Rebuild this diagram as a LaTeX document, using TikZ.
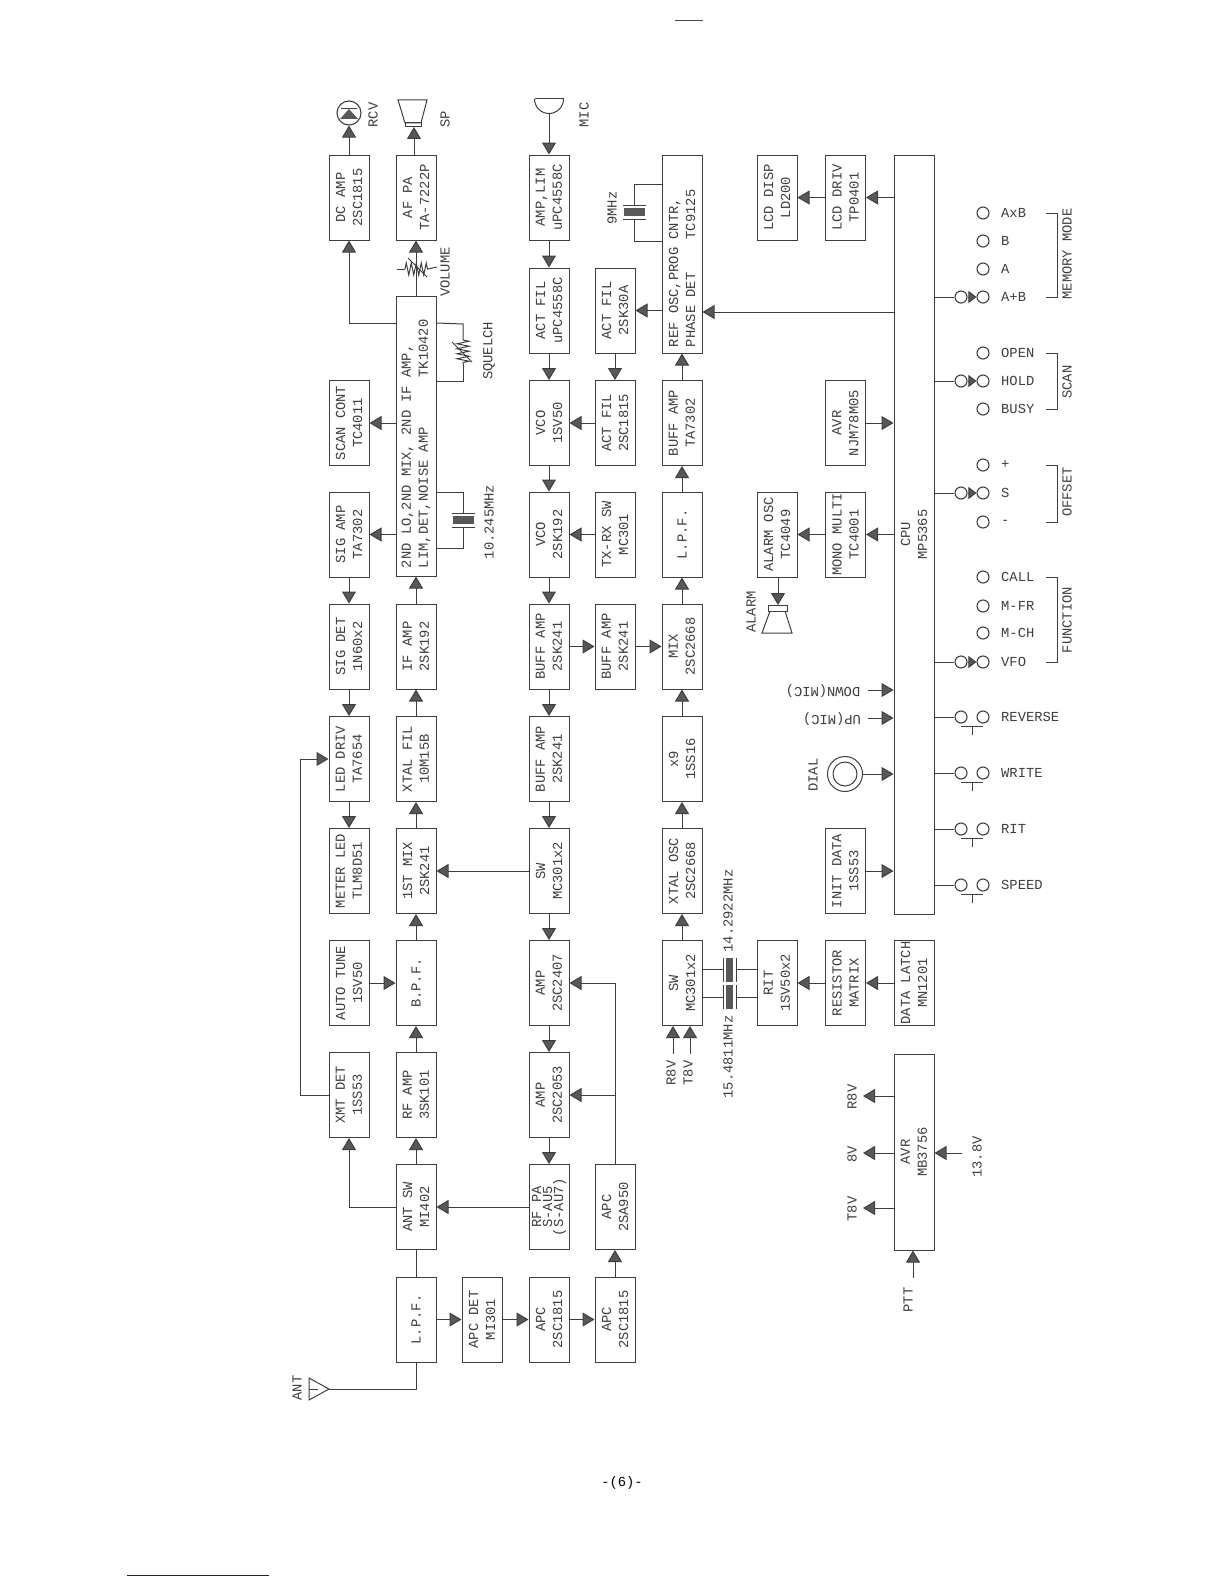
\documentclass[tikz,border=0pt]{standalone}
\usepackage{fontspec}
\newfontfamily\boxfam{Liberation Mono}
\newcommand{\boxfont}{\boxfam\fontsize{13.8}{17}\selectfont}
\definecolor{inkgray}{RGB}{62,62,62}
\definecolor{tipgray}{RGB}{88,88,88}
\definecolor{rulblue}{RGB}{20,20,170}
\usetikzlibrary{arrows.meta,calc,decorations.pathmorphing}
\tikzset{
  blockbox/.style={draw=inkgray,line width=1pt,rotate=90,minimum width=85pt,minimum height=40pt,inner sep=0pt,align=center,font=\boxfont,text=inkgray},
  wire/.style={draw=inkgray,line width=1pt},
  conn/.style={wire,-{Triangle[length=12pt,width=14pt,fill=tipgray]}},
  tinyconn/.style={wire,-{Triangle[length=8pt,width=12pt,fill=tipgray]}},
  sidelabel/.style={rotate=90,inner sep=0pt,align=center,font=\boxfont,text=inkgray},
  flatlabel/.style={anchor=west,inner sep=0pt,font=\boxfont,text=inkgray},
  swcircle/.style={circle,draw=inkgray,line width=1.1pt,minimum size=12pt,inner sep=0pt},
  resist/.style={wire,decorate,decoration={zigzag,segment length=5pt,amplitude=6pt}},
  xtalbody/.style={fill=tipgray,draw=none},
}
\begin{document}
\begin{tikzpicture}[x=1pt,y=-1pt]
  \useasboundingbox (0,0) rectangle (1224,1584);
  \foreach \nm/\cx/\cy/\txt in {
    dcamp/349/197.5/{DC AMP\\2SC1815},
    scancont/349/423/{SCAN CONT\\TC4011},
    sigamp/349/534.5/{SIG AMP\\TA7302},
    sigdet/349/646.5/{SIG DET\\1N60x2},
    leddriv/349/759/{LED DRIV\\TA7654},
    meterled/349/871/{METER LED\\TLM8D51},
    autotune/349/983/{AUTO TUNE\\1SV50},
    xmtdet/349/1095/{XMT DET\\1SS53},
    afpa/416/197.5/{AF PA\\TA-7222P},
    ifamp/416/646.5/{IF AMP\\2SK192},
    xtalfil/416/759/{XTAL FIL\\10M15B},
    firstmix/416/871/{1ST MIX\\2SK241},
    bpf/416/983/{B.P.F.},
    rfamp/416/1095/{RF AMP\\3SK101},
    antsw/416/1207/{ANT SW\\MI402},
    lpfant/416/1319.5/{L.P.F.},
    apcdet/482/1319.5/{APC DET\\MI301},
    amplim/549/197.5/{AMP,LIM\\uPC4558C},
    actfila/549/310.5/{ACT FIL\\uPC4558C},
    vcoa/549/423/{VCO\\1SV50},
    vcob/549/534.5/{VCO\\2SK192},
    buffa/549/646.5/{BUFF AMP\\2SK241},
    buffb/549/759/{BUFF AMP\\2SK241},
    swa/549/871/{SW\\MC301x2},
    ampa/549/983/{AMP\\2SC2407},
    ampb/549/1095/{AMP\\2SC2053},
    rfpa/549/1207/{RF PA\\[-6pt]S-AU5\\[-6pt](S-AU7)},
    apcb/549/1319.5/{APC\\2SC1815},
    actfilb/615/310.5/{ACT FIL\\2SK30A},
    actfilc/615/423/{ACT FIL\\2SC1815},
    txrxsw/615/534.5/{TX-RX SW\\MC301},
    buffc/615/646.5/{BUFF AMP\\2SK241},
    apcd/615/1207/{APC\\2SA950},
    apce/615/1319.5/{APC\\2SC1815},
    buffe/682/423/{BUFF AMP\\TA7302},
    lpfe/682/534.5/{L.P.F.},
    mix/682/646.5/{MIX\\2SC2668},
    xnine/682/759/{x9\\1SS16},
    xtalosc/682/871/{XTAL OSC\\2SC2668},
    swb/682/983/{SW\\MC301x2},
    lcddisp/777/197.5/{LCD DISP\\LD200},
    alarmosc/777/534.5/{ALARM OSC\\TC4049},
    rit/777/983/{RIT\\1SV50x2},
    lcddrv/845.5/197.5/{LCD DRIV\\TP0401},
    avrb/845.5/423/{AVR\\NJM78M05},
    monomulti/845.5/534.5/{MONO MULTI\\TC4001},
    initdata/845.5/871/{INIT DATA\\1SS53},
    resmatrix/845.5/983/{RESISTOR\\MATRIX},
    datalatch/914/983/{DATA LATCH\\MN1201}} {
    \node[blockbox] (\nm) at (\cx,\cy) {\txt};
  }
  \node[blockbox,minimum width=280pt,text width=264pt,align=flush left] (wideif) at (416,436) {2ND LO,2ND MIX, 2ND IF AMP,\\LIM,DET,NOISE AMP~~~~~~TK10420};
  \node[blockbox,minimum width=198pt,text width=186pt,align=flush left] (refosc) at (682,254) {REF OSC,PROG CNTR,\\PHASE DET~~~~TC9125};
  \node[blockbox,minimum width=759pt] (cpu) at (914,534.5) {CPU\\MP5365};
  \node[blockbox,minimum width=196pt] (avra) at (914,1152) {AVR\\MB3756};

  \foreach \a/\b in {
    sigamp/sigdet,sigdet/leddriv,leddriv/meterled,autotune/bpf,
    wideif/afpa,ifamp/wideif,xtalfil/ifamp,firstmix/xtalfil,bpf/firstmix,rfamp/bpf,antsw/rfamp,
    swa/firstmix,rfpa/antsw,lpfant/apcdet,apcdet/apcb,apcb/apce,apce/apcd,
    amplim/actfila,actfila/vcoa,vcoa/vcob,vcob/buffa,buffa/buffb,buffb/swa,swa/ampa,ampa/ampb,ampb/rfpa,
    buffa/buffc,buffc/mix,actfilb/actfilc,actfilc/vcoa,txrxsw/vcob,
    buffe/refosc,lpfe/buffe,mix/lpfe,xnine/mix,xtalosc/xnine,swb/xtalosc,
    lcddrv/lcddisp,monomulti/alarmosc,resmatrix/rit,datalatch/resmatrix} {
    \draw[conn] (\a) -- (\b);
  }
  \draw[wire] (lpfant) -- (antsw);
  \draw[conn] (wideif.north |- scancont) -- (scancont.south);
  \draw[conn] (wideif.north |- sigamp) -- (sigamp.south);
  \coordinate (dcout) at (396,323);
  \draw[conn] (dcout) -| (dcamp);
  \draw[conn] (antsw.north) -| (xmtdet);
  \coordinate (xmtbus) at (300,759);
  \draw[conn] (xmtdet.north) -| (xmtbus) -- (leddriv.north);
  \draw[conn] (apcd) |- (ampa.south);
  \draw[conn] (apcd |- ampb) -- (ampb.south);
  \draw[conn] (refosc.north |- actfilb) -- (actfilb.south);

  \draw[conn] (cpu.north |- lcddrv) -- (lcddrv.south);
  \coordinate (cpuref) at (894,312);
  \draw[conn] (cpuref) -- (cpuref -| refosc.south);
  \draw[conn] (avrb.south) -- (cpu.north |- avrb);
  \draw[conn] (cpu.north |- monomulti) -- (monomulti.south);
  \draw[conn] (initdata.south) -- (cpu.north |- initdata);
  \foreach \nm/\cy/\txt/\cx in {downin/690/DOWN(MIC)/823,upin/718/UP(MIC)/832} {
    \coordinate (\nm) at (868,\cy);
    \node[rotate=180,inner sep=0pt,font=\boxfont,text=inkgray] (lbl\nm) at (\cx,\cy+1) {\txt};
    \draw[conn] (\nm) -- (cpu.north |- \nm);
  }
  \node[circle,draw=inkgray,line width=1pt,minimum size=35pt,inner sep=0pt] (dial) at (845,774) {};
  \node[circle,draw=inkgray,line width=1pt,minimum size=24pt,inner sep=0pt] (dialin) at (845,774) {};
  \draw[conn] (dial) -- (cpu.north |- dial);
  \foreach \nm/\cy/\txt in {avrr/1096/R8V,avrm/1153/8V,avrt/1208/T8V} {
    \coordinate (\nm) at (863,\cy);
    \draw[conn] (cpu.north |- \nm) -- (\nm);
    \node[sidelabel] (lbl\nm) at (852,\cy+1) {\txt};
  }
  \coordinate (avrin) at (962,1153);
  \draw[conn] (avrin) -- (avrin -| avra.south);
  \coordinate (pttin) at (913,1278);
  \draw[conn] (pttin) -- (pttin |- avra.west);
  \foreach \nm/\cx in {rbv/673,tbv/690} {
    \coordinate (\nm) at (\cx,1054);
    \draw[conn] (\nm) -- (\nm |- swb.west);
  }
  \foreach \nm/\cx/\cy/\txt in {
    lblrcv/373/115/RCV,lblsp/445/119/SP,lblmic/584/115/MIC,lblvol/445/272/VOLUME,
    lblsq/489/351/SQUELCH,lblten/489/522/10.245MHz,lblnine/612/208/9MHz,
    lblant/297/1388/ANT,lblalarm/751/612/ALARM,lbldial/813/775/DIAL,
    lblfo/728/911/{14.2922MHz},lblfi/728/1057/{15.4811MHz},
    lblrb/671/1073/R8V,lbltb/688/1073/T8V,lbltv/977/1157/13.8V,lblptt/908/1300/PTT,
    lblmem/1067/254/{MEMORY MODE},lblscan/1067/382/SCAN,lblof/1067/492/OFFSET,lblfn/1067/620/FUNCTION} {
    \node[sidelabel] (\nm) at (\cx,\cy) {\txt};
  }

  \node[circle,draw=inkgray,line width=1.1pt,minimum size=24pt,inner sep=0pt] (rcv) at (349,113) {};
  \draw[conn] (dcamp) -- (rcv);
  \fill[tipgray] (340,119) -- (358,119) -- (349,109) -- cycle;
  \draw[wire] (341,108.5) -- (357,108.5);
  \draw[wire] (398,100) -- (427,100) -- (421,123) -- (405,123) -- cycle;
  \draw[wire] (405,123) rectangle (421,127);
  \coordinate (spk) at (414,127);
  \draw[conn] (spk |- afpa.east) -- (spk);
  \draw[wire] (534.5,99) -- (563.5,99);
  \draw[wire] (534.5,99) arc (180:0:14.5);
  \coordinate (mic) at (549,113.5);
  \draw[conn] (mic) -- (amplim);
  \coordinate (alarmspk) at (778,605);
  \draw[conn] (alarmosc.west -| alarmspk) -- (alarmspk);
  \draw[wire] (768,605) rectangle (787,611);
  \draw[wire] (770,611) -- (762,633) -- (792,633) -- (785,611);
  \draw[wire] (309,1378) -- (329,1389) -- (309,1400) -- cycle;
  \draw[wire] (309,1389) -- (318,1389);
  \coordinate (anttip) at (329,1389);
  \draw[wire] (lpfant) |- (anttip);

  \draw[wire] (397,269) -- (405,269);
  \draw[resist] (405,269) -- (428,269);
  \draw[wire] (428,269) -- (437,267);
  \draw[wire] (408,258) -- (427,277);
  \draw[wire] (wideif.south |- dcout) -- (463,324) -- (463,340);
  \draw[resist] (463,340) -- (463,364);
  \draw[wire] (463,364) -- (463,381) -- (436,381);
  \draw[wire] (452,342) -- (472,362);

  \draw[wire] (436,492) -- (463,492) -- (463,513);
  \draw[wire] (463,527) -- (463,548) -- (436,548);
  \draw[wire] (452,513) -- (475,513);
  \draw[wire] (452,527) -- (475,527);
  \fill[xtalbody] (453,516) rectangle (474,524);

  \draw[wire] (662,184) -- (634,184) -- (634,205);
  \draw[wire] (634,219) -- (634,241) -- (662,241);
  \draw[wire] (623,205) -- (646,205);
  \draw[wire] (623,219) -- (646,219);
  \fill[xtalbody] (624,208) rectangle (645,216);

  \foreach \cy/\ya/\yb in {969/958/982,997/985/1009} {
    \draw[wire] (702,\cy) -- (723,\cy);
    \draw[wire] (736,\cy) -- (757,\cy);
    \draw[wire] (723,\ya) -- (723,\yb);
    \draw[wire] (736,\ya) -- (736,\yb);
    \fill[xtalbody] (726,\ya) rectangle (733,\yb);
  }

  \foreach \nm/\cy/\txt in {
    axb/213/AxB,bsel/241/B,asel/269/A,apb/297/A+B,
    open/353/OPEN,hold/381/HOLD,busy/409/BUSY,
    plus/465/+,ssel/493/S,minus/522/-,
    call/577/CALL,mfr/606/M-FR,mch/633/M-CH,vfo/662/VFO,
    rev/717/REVERSE,wrt/773/WRITE,rits/829/RIT,spd/885/SPEED} {
    \node[swcircle] (c\nm) at (983,\cy) {};
    \node[flatlabel] (l\nm) at (1001,\cy) {\txt};
  }
  \foreach \nm/\cy in {apb/297,hold/381,ssel/493,vfo/662,rev/717,wrt/773,rits/829,spd/885} {
    \node[swcircle] (p\nm) at (961,\cy) {};
    \draw[wire] (cpu.south |- p\nm) -- (p\nm);
  }
  \foreach \nm in {apb,hold,ssel,vfo} {
    \draw[tinyconn] (p\nm) -- (c\nm);
  }
  \foreach \nm in {rev,wrt,rits,spd} {
    \draw[wire] ($(p\nm)+(0,9)$) -- ($(c\nm)+(0,9)$);
    \draw[wire] ($(p\nm)!0.5!(c\nm)+(0,9)$) -- ++(0,9);
  }
  \foreach \ya/\yb in {213/297,353/409,465/522,577/662} {
    \draw[wire] (1046,\ya) -- (1057,\ya) -- (1057,\yb) -- (1046,\yb);
  }

  \node[inner sep=0pt,font=\boxfont,text=black] (pageno) at (622,1483) {-(6)-};
  \draw[line width=1pt,black!70] (675,21) -- (703,21);
  \draw[line width=1pt,rulblue] (127,1575) -- (269,1575);
\end{tikzpicture}
\end{document}
